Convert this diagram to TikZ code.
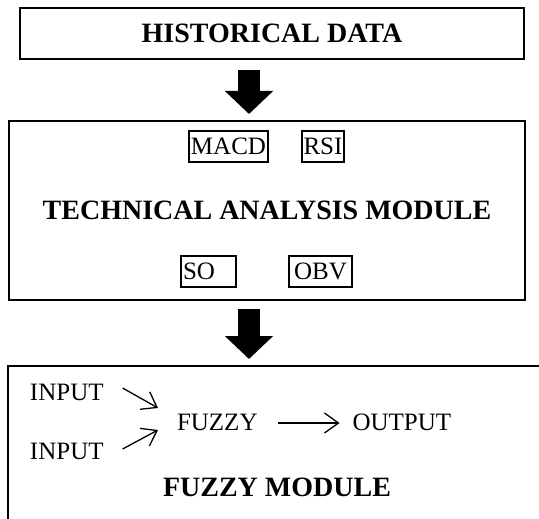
\documentclass[tikz,border=0pt]{standalone}
\usepackage{fontspec}
\setmainfont{Liberation Serif}
\usetikzlibrary{arrows.meta}
\usetikzlibrary{shapes}
\usetikzlibrary{positioning}

\begin{document}
\begin{tikzpicture}[x=1pt, y=-1pt, >=Stealth]
                \tikzstyle{bigbox} = [draw, line width=1.8pt, rectangle, outer sep=0pt, inner sep=0pt, font=\fontsize{28}{32}\selectfont\bfseries]
                \tikzstyle{smallbox} = [draw, line width=1.5pt, rectangle, outer sep=0pt, inner sep=1pt, minimum height=31pt, font=\fontsize{25}{30}\selectfont]
                \tikzstyle{plain} = [inner sep=0pt, outer sep=0pt, font=\fontsize{25}{30}\selectfont]
                \tikzstyle{heading} = [inner sep=0pt, outer sep=0pt, font=\fontsize{28}{32}\selectfont\bfseries]
                \tikzstyle{blockarrow} = [line width=22pt, -{Triangle[width=47pt,length=23pt]}]
                \tikzstyle{thinarrow} = [line width=1.3pt, -{Straight Barb[length=14pt,width=20pt]}]

                \path[use as bounding box, clip] (0,0) rectangle (539,519);

                % Modules
                \node[bigbox, minimum width=504pt, minimum height=51pt] (hist) at (272,33.5) {HISTORICAL DATA};
                \node[bigbox, minimum width=516pt, minimum height=179pt] (tam) at (267,210.5) {TECHNICAL ANALYSIS MODULE};
                \node[bigbox, minimum width=572pt, minimum height=194pt] (fbox) at (294,463) {};

                % Indicators
                \node[smallbox, minimum width=79pt] (macd) at (228.5,146.5) {MACD};
                \node[smallbox, minimum width=42pt, right=34pt of macd] (rsi) {RSI};
                \node[smallbox, text width=51pt, align=left, inner sep=2pt] (so) at (208.5,271.5) {SO};
                \node[smallbox, minimum width=63pt, right=53pt of so] (obv) {OBV};

                % Fuzzy part
                \node[plain, anchor=west] (in1) at (30,392) {INPUT};
                \node[plain, anchor=west] (in2) at (30,451) {INPUT};
                \node[plain, anchor=west] (fuzzy) at (177,422) {FUZZY};
                \node[plain, right=95pt of fuzzy] (output) {OUTPUT};
                \node[heading] (fmod) at (277,487) {FUZZY MODULE};

                % Block arrows
                \draw[blockarrow] ([xshift=-23pt,yshift=-11pt]hist.south) -- ([xshift=-18pt,yshift=7pt]tam.north);
                \draw[blockarrow] ([xshift=-18pt,yshift=-9pt]tam.south) -- ([xshift=-45pt,yshift=7pt]fbox.north);

                % Thin arrows
                \draw[thinarrow] ([xshift=19pt,yshift=4pt]in1.east) -- ([xshift=-19pt,yshift=14pt]fuzzy.west);
                \draw[thinarrow] ([xshift=19pt,yshift=2pt]in2.east) -- ([xshift=-19pt,yshift=-8pt]fuzzy.west);
                \draw[thinarrow] ([xshift=20pt,yshift=-1pt]fuzzy.east) -- ([xshift=-13pt,yshift=-1pt]output.west);
\end{tikzpicture}
\end{document}
